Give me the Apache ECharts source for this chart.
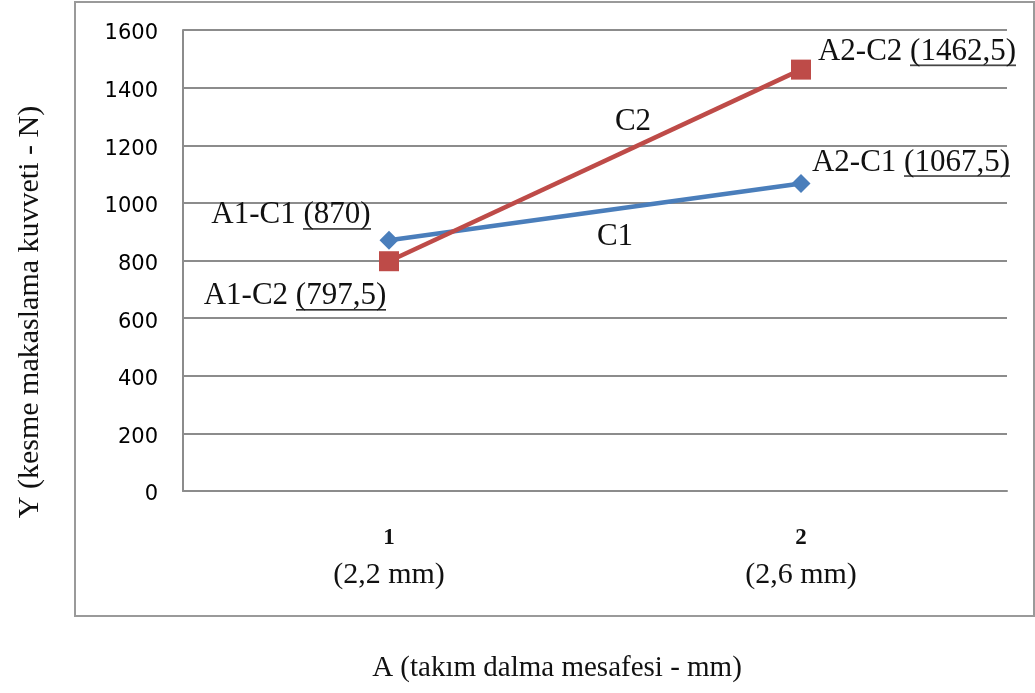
<!DOCTYPE html>
<html>
<head>
<meta charset="utf-8">
<script src="https://cdn.jsdelivr.net/npm/echarts@6/dist/echarts.min.js"></script>
<style>
  html, body { margin: 0; padding: 0; background: #fff; }
  #chart { width: 1035px; height: 693px; }
</style>
</head>
<body>
<div id="chart"></div>
<script>
// Shear force vs. tool plunge depth
const categories = ['1', '2'];
const categoryNotes = ['(2,2 mm)', '(2,6 mm)'];
const seriesC1 = [870, 1067.5];
const seriesC2 = [797.5, 1462.5];
const pointNamesC1 = ['A1-C1', 'A2-C1'];
const pointNamesC2 = ['A1-C2', 'A2-C2'];
const yTicks = { min: 0, max: 1600, interval: 200 };

const SERIF = '"Liberation Serif", "Times New Roman", serif';
const SANS = '"DejaVu Sans", Tahoma, sans-serif';

// small canvas used as a background image to draw an underline beneath a rich-text run
function underlineImage(h, lineY) {
  const c = document.createElement('canvas');
  c.width = 8; c.height = h;
  const ctx = c.getContext('2d');
  ctx.fillStyle = '#111';
  ctx.fillRect(0, lineY, 8, 1.6);
  return c;
}
const ulImg = underlineImage(36, 33);

function fmtValue(v) {
  return String(v).replace('.', ',');
}

const richLabel = {
  t: { fontFamily: SERIF, fontSize: 31, color: '#111', lineHeight: 36 },
  u: { fontFamily: SERIF, fontSize: 31, color: '#111', lineHeight: 36,
       backgroundColor: { image: ulImg } }
};

function pointData(values, names, offsets) {
  return values.map((v, i) => ({
    value: v,
    label: {
      show: true,
      position: 'inside',
      align: 'center',
      verticalAlign: 'middle',
      offset: offsets[i],
      formatter: '{t|' + names[i] + ' }{u|(' + fmtValue(v) + ')}',
      rich: richLabel
    }
  }));
}

const chart = echarts.init(document.getElementById('chart'), null, { renderer: 'canvas' });

chart.setOption({
  backgroundColor: '#fff',
  animation: false,
  grid: { left: 183, right: 28, top: 30, bottom: 202, containLabel: false },
  xAxis: {
    type: 'category',
    data: categories,
    boundaryGap: true,
    axisLine: { show: true, lineStyle: { color: '#8c8c8c', width: 2 } },
    axisTick: { show: false },
    axisLabel: {
      margin: 30,
      formatter: (val, idx) => '{n|' + val + '}\n{m|' + categoryNotes[idx] + '}',
      rich: {
        n: { fontFamily: SERIF, fontSize: 23, fontWeight: 'bold', color: '#111', lineHeight: 34 },
        m: { fontFamily: SERIF, fontSize: 30, color: '#111', lineHeight: 40 }
      }
    },
    splitLine: { show: false }
  },
  yAxis: {
    type: 'value',
    min: yTicks.min,
    max: yTicks.max,
    interval: yTicks.interval,
    axisLine: { show: true, lineStyle: { color: '#8c8c8c', width: 2 } },
    axisTick: { show: false },
    axisLabel: {
      margin: 25,
      formatter: v => '{v|' + v + '}',
      rich: {
        v: { fontFamily: SANS, fontSize: 21, color: '#000', lineHeight: 24, padding: [8, 0, 0, 0] }
      }
    },
    splitLine: { show: true, lineStyle: { color: '#8c8c8c', width: 2 } }
  },
  series: [
    {
      name: 'C1',
      type: 'line',
      data: pointData(seriesC1, pointNamesC1, [[-98, -25], [110, -21]]),
      symbol: 'diamond',
      symbolSize: 19,
      lineStyle: { color: '#4A7EBB', width: 4.5 },
      itemStyle: { color: '#4A7EBB' },
      z: 3
    },
    {
      name: 'C2',
      type: 'line',
      data: pointData(seriesC2, pointNamesC2, [[-94, 35], [116, -18]]),
      symbol: 'rect',
      symbolSize: 20,
      lineStyle: { color: '#BE4B48', width: 4.5 },
      itemStyle: { color: '#BE4B48' },
      z: 4
    }
  ],
  graphic: [
    {
      type: 'rect',
      z: -10,
      shape: { x: 75, y: 2, width: 959, height: 614 },
      style: { fill: 'none', stroke: '#9a9a9a', lineWidth: 2 }
    },
    {
      type: 'text',
      x: 633, y: 122,
      style: { text: 'C2', font: '31px ' + SERIF, fill: '#111', align: 'center', verticalAlign: 'middle' }
    },
    {
      type: 'text',
      x: 615, y: 237,
      style: { text: 'C1', font: '31px ' + SERIF, fill: '#111', align: 'center', verticalAlign: 'middle' }
    },
    {
      type: 'text',
      x: 557, y: 668,
      style: { text: 'A (takım dalma mesafesi - mm)', font: '29px ' + SERIF, fill: '#111', align: 'center', verticalAlign: 'middle' }
    },
    {
      type: 'text',
      x: 30, y: 312,
      rotation: Math.PI / 2,
      style: { text: 'Y (kesme makaslama kuvveti - N)', font: '30px ' + SERIF, fill: '#111', align: 'center', verticalAlign: 'middle' }
    }
  ]
});
</script>
</body>
</html>
